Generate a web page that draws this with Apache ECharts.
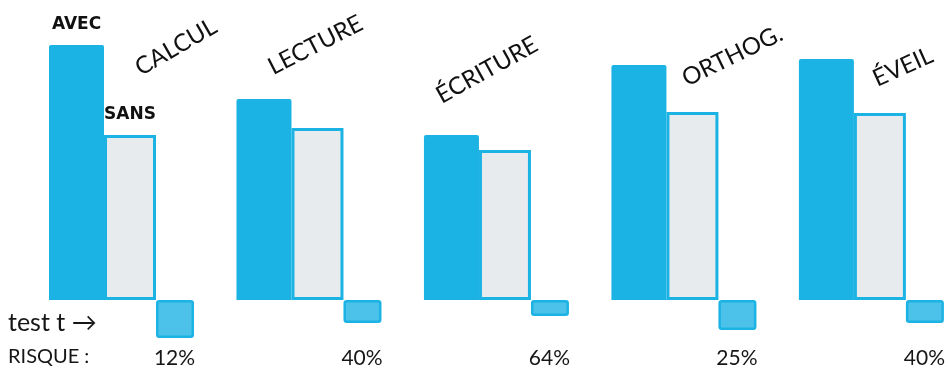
<!DOCTYPE html>
<html>
<head>
<meta charset="utf-8">
<script src="https://cdn.jsdelivr.net/npm/echarts@6/dist/echarts.min.js"></script>
<style>
  html, body { margin: 0; padding: 0; background: #fff; }
  #chart { width: 948px; height: 376px; }
</style>
</head>
<body>
<div id="chart"></div>
<script>
// matières et valeurs (hauteur des barres, unités arbitraires)
const subjects = ['CALCUL', 'LECTURE', 'ÉCRITURE', 'ORTHOG.', 'ÉVEIL'];
const avec = [255, 201, 165, 235, 241];
const sans = [165, 172, 150, 188, 187];
const testT = [-38, -23, -16, -30, -23];
const risque = ['12%', '40%', '64%', '25%', '40%'];

// placement des noms de matières : décalage à l'écran depuis le haut de la barre SANS, rotation
const nameOffset = [[46, -88], [-2, -83], [-18, -80], [40, -56], [23, -46]];
const nameRotate = [30, 27, 29, 26, 24];

// echarts applique offset dans le repère tourné du label -> on le ramène
function localOffset(d, deg) {
    const t = deg * Math.PI / 180;
    return [d[0] * Math.cos(t) - d[1] * Math.sin(t),
            d[0] * Math.sin(t) + d[1] * Math.cos(t)];
}

const BLUE = '#1bb3e3';
const FONT = 'Lato, "Liberation Sans", sans-serif';

const chart = echarts.init(document.getElementById('chart'));

chart.setOption({
    backgroundColor: '#ffffff',
    animation: false,
    grid: { left: 121.5, top: 0, width: 751, height: 340 },
    xAxis: {
        type: 'category',
        data: subjects,
        boundaryGap: false,
        axisLine: { show: false, onZero: false },
        axisTick: { show: false },
        axisLabel: {
            formatter: (v, i) => risque[i],
            margin: 8,
            padding: [0, 0, 0, 106],
            fontFamily: FONT,
            fontSize: 21,
            color: '#161616'
        }
    },
    yAxis: { type: 'value', min: -40, max: 300, show: false },
    series: [
        {
            name: 'AVEC',
            type: 'bar',
            clip: false,
            barWidth: 55,
            barGap: '0%',
            itemStyle: { color: BLUE, borderRadius: [2, 2, 0, 0] },
            data: avec.map((v, i) => i === 0 ? {
                value: v,
                label: {
                    show: true, position: 'top', distance: 12, formatter: 'AVEC',
                    fontFamily: '"DejaVu Sans", sans-serif',
                    fontWeight: 'bold', fontSize: 17, color: '#111'
                }
            } : v)
        },
        {
            name: 'SANS',
            type: 'bar',
            clip: false,
            barWidth: 52,
            barGap: '0%',
            itemStyle: { color: '#e7ebee', borderColor: BLUE, borderWidth: 3 },
            label: {
                show: true,
                position: 'top',
                distance: 0,
                align: 'center',
                verticalAlign: 'middle',
                formatter: '{b}',
                fontFamily: FONT,
                fontSize: 24,
                color: '#111'
            },
            data: sans.map((v, i) => ({
                value: v,
                label: { offset: localOffset(nameOffset[i], nameRotate[i]), rotate: nameRotate[i] }
            })),
            markPoint: {
                symbol: 'rect', symbolSize: 0,
                label: {
                    show: true, formatter: 'SANS', offset: [0, -20],
                    fontFamily: '"DejaVu Sans", sans-serif',
                    fontWeight: 'bold', fontSize: 17, color: '#111'
                },
                data: [{ coord: [0, sans[0]] }]
            }
        },
        {
            name: 'test t',
            type: 'bar',
            clip: false,
            barWidth: 38,
            barGap: '0%',
            itemStyle: { color: '#4cc2ea', borderColor: BLUE, borderWidth: 2.5, borderRadius: 2 },
            data: testT
        }
    ],
    graphic: [
        {
            type: 'text', left: 8, top: 310,
            style: { text: 'test t →', fontFamily: FONT, fontSize: 25, fill: '#161616' }
        },
        {
            type: 'text', left: 8, top: 347,
            style: { text: 'RISQUE :', fontFamily: FONT, fontSize: 20, fill: '#161616' }
        }
    ]
});
</script>
</body>
</html>
